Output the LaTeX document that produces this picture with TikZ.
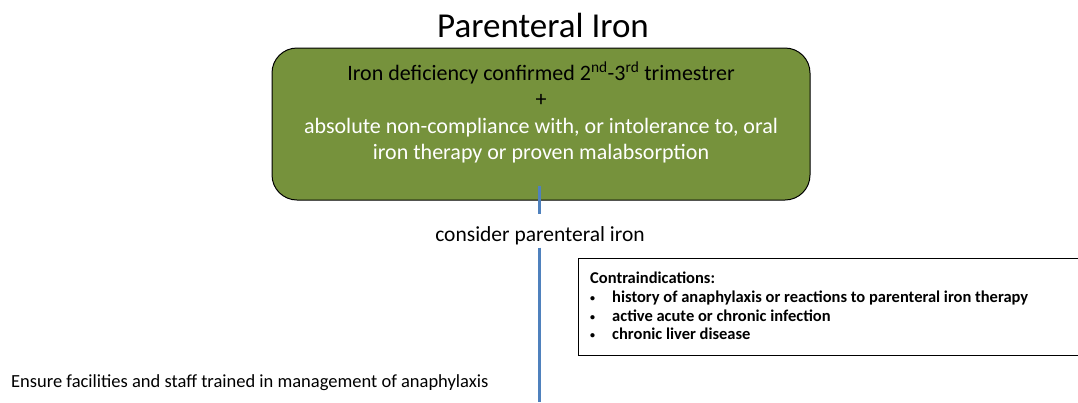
\documentclass[tikz,border=0pt]{standalone}
\usepackage{fontspec}
\setmainfont{Carlito}
\usepackage{tikz}

\definecolor{olivebox}{HTML}{76923C}
\definecolor{linkblue}{HTML}{4F81BD}

\newcommand{\cibullet}{\makebox[22pt][l]{\raisebox{1pt}{\fontsize{10}{10}\selectfont\textbullet}}}

\begin{document}
\begin{tikzpicture}[x=1pt,y=-1pt,
    condbox/.style={draw=black,line width=1pt,fill=olivebox,rounded corners=25pt,
      minimum width=538pt,minimum height=152pt,align=center,inner sep=0pt,
      font=\fontsize{22}{26.5}\selectfont},
    cibox/.style={draw=black,line width=0.8pt,anchor=north west,
      minimum width=520pt,minimum height=97pt,inner sep=0pt},
    citext/.style={anchor=north west,align=left,inner sep=0pt,
      font=\fontsize{16.5}{18.7}\selectfont\bfseries},
    link/.style={linkblue,line width=3pt}]
  \useasboundingbox (0,0) rectangle (1078,402);
  \fill[white] (0,0) rectangle (1078,402);

  \node[anchor=base] (title) at (543,37) {\fontsize{35}{38}\selectfont Parenteral Iron};

  \node[condbox] (cond) at (541,124) {%
    Iron deficiency confirmed 2\textsuperscript{nd}-3\textsuperscript{rd} trimestrer\\
    +\\
    \color{white}absolute non-compliance with, or intolerance to, oral\\
    \color{white}iron therapy or proven malabsorption\\
    \rule{0pt}{4pt}};

  \node[font=\fontsize{21.5}{24}\selectfont] (consider) at (540,236) {consider parenteral iron};
  \coordinate (bottom) at (539,402);

  \node[cibox] (ci) at (578,258) {};
  \node[citext] (citxt) at ([xshift=12pt,yshift=-14pt]ci.north west) {%
    Contraindications:\\
    \cibullet history of anaphylaxis or reactions to parenteral iron therapy\\
    \cibullet active acute or chronic infection\\
    \cibullet chronic liver disease};

  \node[anchor=base west,inner sep=0pt,font=\fontsize{18.5}{20}\selectfont] (ensure) at (11,387)
    {Ensure facilities and staff trained in management of anaphylaxis};

  \draw[link] ([yshift=15pt]cond.south -| bottom) -- ([yshift=9pt]consider.north -| bottom);
  \draw[link] ([yshift=1pt]consider.south -| bottom) -- (bottom);
\end{tikzpicture}
\end{document}
